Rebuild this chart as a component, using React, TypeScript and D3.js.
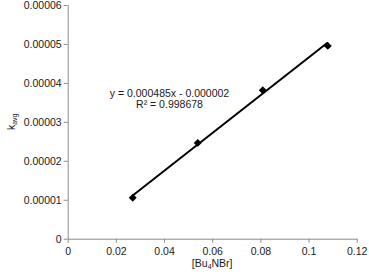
import { useEffect, useRef } from 'react'
import * as d3 from 'd3'

// [Bu4NBr] concentrations and averaged rate constants
const concentrations = [0.027, 0.054, 0.081, 0.108]
const kAvg = [0.0000105, 0.0000246, 0.0000381, 0.0000495]

const xTicks = [0, 0.02, 0.04, 0.06, 0.08, 0.1, 0.12]
const yTicks = [0, 0.00001, 0.00002, 0.00003, 0.00004, 0.00005, 0.00006]

// Trendline as printed on the chart
const slope = 0.000485
const intercept = -0.000002
const equationLines = ['y = 0.000485x - 0.000002', 'R² = 0.998678']

const WIDTH = 369
const HEIGHT = 272
const FONT = '"Liberation Sans", Arial, sans-serif'

export default function App() {
  const svgRef = useRef<SVGSVGElement>(null)

  useEffect(() => {
    if (!svgRef.current) return
    const svg = d3.select(svgRef.current)
    svg.selectAll('*').remove()

    const margin = { left: 67.7, right: 12.3, top: 5, bottom: 33.3 }
    const x = d3.scaleLinear()
      .domain([0, 0.12])
      .range([margin.left, WIDTH - margin.right])
    const y = d3.scaleLinear()
      .domain([0, 0.00006])
      .range([HEIGHT - margin.bottom, margin.top])

    const axisColor = '#8c8c8c'
    const textColor = '#1a1a1a'

    // x axis
    const xAxis = svg.append('g')
      .attr('transform', `translate(0,${y(0)})`)
      .call(d3.axisBottom(x).tickValues(xTicks).tickSize(4).tickSizeOuter(0)
        .tickFormat(d => String(d)))
    xAxis.select('.domain').attr('stroke', axisColor)
    xAxis.selectAll('.tick line').attr('stroke', axisColor)
    xAxis.selectAll('.tick text')
      .attr('fill', textColor)
      .attr('font-family', FONT)
      .attr('font-size', '10.5px')
      .attr('dy', '0.9em')

    // y axis
    const yAxis = svg.append('g')
      .attr('transform', `translate(${x(0)},0)`)
      .call(d3.axisLeft(y).tickValues(yTicks).tickSize(4).tickSizeOuter(0)
        .tickFormat(d => (d === 0 ? '0' : (d as number).toFixed(5))))
    yAxis.select('.domain').attr('stroke', axisColor)
    yAxis.selectAll('.tick line').attr('stroke', axisColor)
    yAxis.selectAll('.tick text')
      .attr('fill', textColor)
      .attr('font-family', FONT)
      .attr('font-size', '10.5px')
      .attr('x', -6)

    // trendline across the data range
    const [xMin, xMax] = d3.extent(concentrations) as [number, number]
    svg.append('line')
      .attr('x1', x(xMin))
      .attr('y1', y(slope * xMin + intercept))
      .attr('x2', x(xMax))
      .attr('y2', y(slope * xMax + intercept))
      .attr('stroke', '#000')
      .attr('stroke-width', 2)

    // diamond markers
    const diamond = d3.symbol().type(d3.symbolDiamond2).size(40)
    svg.append('g')
      .selectAll('path')
      .data(concentrations)
      .join('path')
      .attr('d', diamond)
      .attr('transform', (d, i) => `translate(${x(d)},${y(kAvg[i])})`)
      .attr('fill', '#000')

    // equation label
    svg.append('text')
      .attr('x', 169.5)
      .attr('y', 96.5)
      .attr('text-anchor', 'middle')
      .attr('font-family', FONT)
      .attr('font-size', '10.5px')
      .attr('fill', textColor)
      .selectAll('tspan')
      .data(equationLines)
      .join('tspan')
      .attr('x', 169.5)
      .attr('dy', (d, i) => (i === 0 ? 0 : 11.5))
      .text(d => d)

    // axis titles
    const xTitle = svg.append('text')
      .attr('x', (x(0) + x(0.12)) / 2)
      .attr('y', 267)
      .attr('text-anchor', 'middle')
      .attr('font-family', FONT)
      .attr('font-size', '10.5px')
      .attr('fill', textColor)
    xTitle.append('tspan').text('[Bu')
    xTitle.append('tspan').attr('font-size', '7px').attr('dy', 2).text('4')
    xTitle.append('tspan').attr('dy', -2).text('NBr]')

    const yTitle = svg.append('text')
      .attr('transform', `translate(15,${(y(0) + y(0.00006)) / 2}) rotate(-90)`)
      .attr('text-anchor', 'middle')
      .attr('font-family', FONT)
      .attr('font-size', '10.5px')
      .attr('fill', textColor)
    yTitle.append('tspan').text('k')
    yTitle.append('tspan').attr('font-size', '7px').attr('dy', 2).text('avg')
  }, [])

  return (
    <svg
      ref={svgRef}
      width={WIDTH}
      height={HEIGHT}
      style={{ position: 'absolute', left: 0, top: 0, background: '#fff' }}
    />
  )
}
